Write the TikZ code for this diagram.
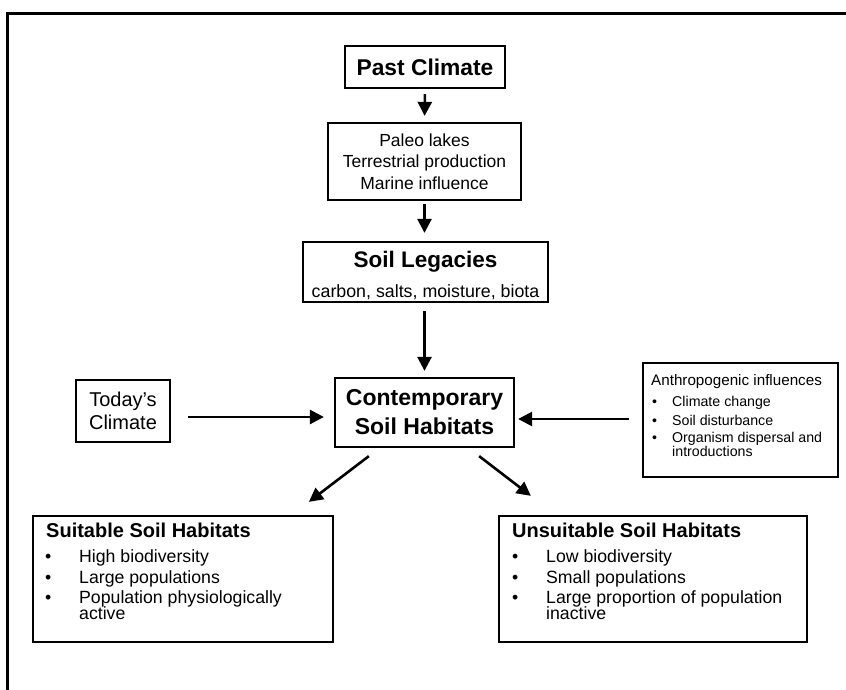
\documentclass[tikz,border=0pt]{standalone}
\usepackage{fontspec}
\setmainfont{Liberation Sans}
\usetikzlibrary{arrows.meta}
\begin{document}
\begin{tikzpicture}[x=1pt,y=-1pt,
  box/.style={draw,line width=2.3pt,inner sep=0pt,align=center},
  arr/.style={line width=2.6pt,-{Triangle[length=14pt,width=14pt]}},
  txt/.style={inner sep=0pt,anchor=base west},
  big/.style={font=\fontsize{17.7}{20}\selectfont},
  small/.style={font=\fontsize{14.2}{18}\selectfont},
  fr/.style={line width=2.8pt}]
\useasboundingbox (0,0) rectangle (846,690);
% frame
\coordinate (ftop) at (846,13.3);
\coordinate (fcorner) at (7.3,13.3);
\coordinate (fbot) at (7.3,690);
\draw[fr] (ftop) -- (fcorner) -- (fbot);

% main boxes
\node[box,minimum width=160pt,minimum height=42pt,font=\fontsize{22.8}{27}\selectfont\bfseries] (past) at (425,67) {Past Climate};
\node[box,minimum width=193pt,minimum height=77pt,font=\fontsize{17.5}{21.5}\selectfont] (paleo) at (424.5,161.5) {Paleo lakes\\Terrestrial production\\Marine influence};
\node[box,minimum width=245pt,minimum height=60pt,font=\fontsize{17.8}{30}\selectfont] (soil) at (425.5,272) {{\fontsize{22.5}{30}\selectfont\bfseries\rule{0pt}{22.5pt}Soil Legacies}\\carbon, salts, moisture, biota};
\node[box,minimum width=179pt,minimum height=69pt,font=\fontsize{23}{29}\selectfont\bfseries] (cont) at (424.5,412.5) {Contemporary\\Soil Habitats};
\node[box,minimum width=94pt,minimum height=62pt,font=\fontsize{20}{23}\selectfont] (today) at (123,411) {Today's\\Climate};
\node[box,minimum width=195pt,minimum height=114pt] (anth) at (740.5,420) {};
\node[box,minimum width=300pt,minimum height=126pt] (suit) at (183,579) {};
\node[box,minimum width=308pt,minimum height=126pt] (unsuit) at (653,579) {};

% anthropogenic text
\node[txt,font=\fontsize{15.2}{18}\selectfont] (at) at (651,385) {Anthropogenic influences};
\node[txt,small] (a1) at (652,406.5) {\makebox[20pt][l]{\textbullet}Climate change};
\node[txt,small] (a2) at (652,425) {\makebox[20pt][l]{\textbullet}Soil disturbance};
\node[txt,small] (a3) at (652,442.5) {\makebox[20pt][l]{\textbullet}Organism dispersal and};
\node[txt,small] (a4) at (672,456) {introductions};

% suitable text
\node[txt,font=\fontsize{20}{24}\selectfont\bfseries] (st) at (46,537) {Suitable Soil Habitats};
\node[txt,big] (s1) at (45,562) {\makebox[34pt][l]{\textbullet}High biodiversity};
\node[txt,big] (s2) at (45,583) {\makebox[34pt][l]{\textbullet}Large populations};
\node[txt,big] (s3) at (45,603) {\makebox[34pt][l]{\textbullet}Population physiologically};
\node[txt,big] (s4) at (79,619) {active};

% unsuitable text
\node[txt,font=\fontsize{20}{24}\selectfont\bfseries] (ut) at (512,537) {Unsuitable Soil Habitats};
\node[txt,big] (u1) at (512,562) {\makebox[34pt][l]{\textbullet}Low biodiversity};
\node[txt,big] (u2) at (512,583) {\makebox[34pt][l]{\textbullet}Small populations};
\node[txt,big] (u3) at (512,603) {\makebox[34pt][l]{\textbullet}Large proportion of population};
\node[txt,big] (u4) at (546,619) {inactive};

% arrows
\draw[arr,shorten <=5pt,shorten >=6pt] (past.south) -- (paleo.north);
\draw[arr,shorten <=3pt,shorten >=8pt] (paleo.south) -- (paleo.south |- soil.north);
\draw[arr,shorten <=8pt,shorten >=6pt] (soil.south -| cont.north) -- (cont.north);
\draw[arr,shorten <=17pt,shorten >=10pt] ([yshift=-6pt]today.east) -- ([yshift=-4.5pt]cont.west);
\draw[arr,shorten <=13pt,shorten >=3pt] ([yshift=1pt]anth.west) -- ([yshift=-6.5pt]cont.east);
\draw[arr] ([xshift=35pt,yshift=-8pt]cont.south west) -- ([xshift=277pt,yshift=13pt]suit.north west);
\draw[arr] ([xshift=-36pt,yshift=-8pt]cont.south east) -- ([xshift=33pt,yshift=19pt]unsuit.north west);
\end{tikzpicture}
\end{document}
